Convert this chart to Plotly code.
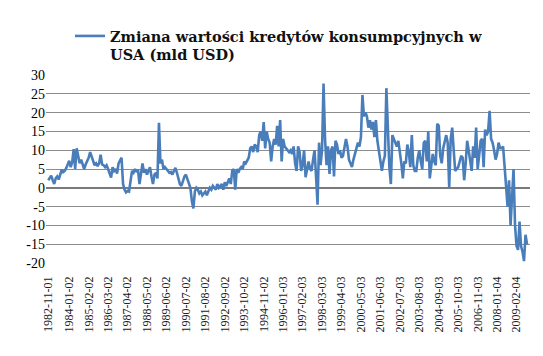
import datetime as dt
import plotly.graph_objects as go

# ---- data ----
series_name = "Zmiana wartości kredytów konsumpcyjnych w<br>USA (mld USD)"

values = [
    2.0, 2.7, 3.2, 2.0, 1.0, 2.5, 3.0, 2.2, 3.5, 4.8,
    4.2, 4.5, 5.2, 6.0, 7.2, 5.5, 6.8, 10.3, 5.0, 10.5,
    8.0, 6.5, 7.5, 6.0, 5.0, 6.2, 7.0, 8.0, 9.5, 8.5,
    7.0, 6.0, 6.5, 5.8, 6.5, 8.8, 6.2, 6.0, 5.5, 6.0,
    5.0, 4.0, 2.7, 5.5, 4.5, 5.0, 3.8, 6.5, 7.5, 8.0,
    1.0, -0.5, -1.2, -0.8, -1.0, 2.0, 4.5, 4.0, 5.0, 4.2,
    4.8, 1.0, 4.5, 6.5, 4.0, 5.0, 3.5, 4.5, 5.5, 3.0,
    1.0, 3.5, 4.0, 2.5, 17.3, 6.5, 7.5, 5.0, 5.5, 5.0,
    4.5, 4.0, 4.2, 3.5, 4.5, 5.3, 4.0, 2.5, 1.0, 0.5,
    2.0, 3.0, 3.5, 2.5, 1.5, 0.0, -3.5, -5.5, -1.0, 0.0,
    -0.5, -1.5, -1.0, -2.0, -1.5, -1.0, -2.0, -1.0, 0.0, -0.5,
    0.5, 0.0, -0.5, 1.0, 0.0, 0.5, 1.0, -0.5, 1.5, 0.5,
    1.5, 2.5, 1.0, 4.5, 5.0, -0.5, 5.0, 4.0, 5.0, 5.5,
    5.0, 7.0, 6.5, 7.5, 8.0, 10.5, 11.0, 9.5, 11.5, 11.0,
    9.5, 14.0, 15.0, 12.5, 17.5, 10.5, 15.0, 13.0, 12.0, 7.0,
    11.0, 13.0, 11.5, 16.5, 11.0, 18.0, 7.0, 13.0, 11.0, 10.5,
    10.0, 9.5, 10.0, 9.0, 11.0, 6.5, 4.5, 11.0, 9.5, 4.5,
    6.0, 10.0, 2.8, 4.5, 7.0, 5.0, 4.5, 7.5, 10.0, 3.0,
    -4.5, 12.0, 6.0, 10.0, 27.7, 13.0, 6.0, 11.0, 3.7, 10.0,
    11.0, 3.0, 12.5, 11.5, 9.0, 10.0, 8.0, 8.5, 11.0, 13.0,
    11.0, 7.5, 6.5, 5.5, 7.5, 9.0, 10.0, 12.0, 11.0, 13.5,
    24.7, 19.0, 20.0, 19.0, 16.0, 18.0, 15.5, 17.5, 13.5, 18.0,
    12.5, 10.0, 7.0, 4.5, 7.0, 8.5, 26.5, 13.5, 5.5, 1.0,
    14.0, 13.0, 12.0, 11.0, 12.5, 10.0, 6.5, 2.5, 7.0, 6.5,
    11.5, 9.5, 5.5, 14.0, 6.0, 4.5, 4.5, 8.0, 10.0, 7.0,
    5.0, 12.0, 12.5, 7.0, 15.0, 2.5, 6.0, 9.0, 7.0, 6.0,
    17.0, 16.5, 8.5, 6.5, 10.5, 12.0, 14.0, 12.0, 0.0, 13.0,
    16.0, 10.0, 4.5, 5.0, 5.5, 7.0, 8.5, 8.0, 2.0, 6.5,
    12.5, 10.0, 7.0, 4.5, 11.0, 8.0, 16.0, 5.0, 8.5, 12.5,
    13.0, 5.5, 15.5, 14.0, 15.0, 20.5, 13.0, 12.0, 10.0, 7.5,
    9.0, 12.0, 10.5, 10.5, 11.0, 4.5, 0.5, -5.0, 2.0, -10.0,
    -2.5, 5.0, -10.0, -15.5, -16.5, -9.0, -15.5, -17.0, -19.5, -12.5,
    -15.0,
]

tick_labels = [
    "1982-11-01", "1984-01-02", "1985-02-02", "1986-03-02", "1987-04-02",
    "1988-05-02", "1989-06-02", "1990-07-02", "1991-08-02", "1992-09-02",
    "1993-10-02", "1994-11-02", "1996-01-03", "1997-02-03", "1998-03-03",
    "1999-04-03", "2000-05-03", "2001-06-03", "2002-07-03", "2003-08-03",
    "2004-09-03", "2005-10-03", "2006-11-03", "2008-01-04", "2009-02-04",
]

y_ticks = [30, 25, 20, 15, 10, 5, 0, -5, -10, -15, -20]

# category labels: dates spaced ~30.5 days from the first one
start = dt.date(1982, 11, 1)
categories = ["d" + (start + dt.timedelta(days=round(i * 30.5 + 0.01))).isoformat()
              for i in range(len(values))]
tick_idx = [0] + [14 + 13 * k for k in range(len(tick_labels) - 1)]
tickvals = [categories[i] for i in tick_idx]

# page body adds an 8px offset; plot area target: x 46..530, y 75..263
OFF = 8
L, T, R, B = 46 - OFF, 75 - OFF, 543 - 530 + OFF, 356 - 263 + OFF

fig = go.Figure()
fig.add_trace(go.Scatter(
    x=categories, y=values, mode="lines", name=series_name,
    line=dict(color="#4A7EBB", width=2.6),
    showlegend=True,
))

fig.update_layout(
    width=543, height=356,
    margin=dict(l=L, r=R, t=T, b=B, autoexpand=False),
    paper_bgcolor="white", plot_bgcolor="white",
    showlegend=True,
    legend=dict(
        x=(70 - 46) / 484, y=1 + (75 - 20) / 188, xanchor="left", yanchor="top",
        valign="top",
        font=dict(family="DejaVu Serif", size=14.5, color="#111111", weight="bold"),
        bgcolor="rgba(0,0,0,0)",
    ),
    xaxis=dict(
        type="category",
        range=[-1.5, len(values) + 1],
        tickmode="array", tickvals=tickvals, ticktext=tick_labels,
        tickangle=-90,
        tickfont=dict(family="Liberation Serif", size=12, color="#222222"),
        ticklabelstandoff=10,
        showgrid=False, showline=False, ticks="",
    ),
    yaxis=dict(
        range=[-20, 30],
        tickmode="array", tickvals=y_ticks, ticktext=[str(v) for v in y_ticks],
        tickfont=dict(family="Liberation Serif", size=14, color="black"),
        showgrid=True, gridcolor="#8C8C8C", gridwidth=1,
        zeroline=True, zerolinecolor="#7A7A7A", zerolinewidth=1.5,
        showline=False, ticks="",
    ),
)

fig.write_html("out.html")
